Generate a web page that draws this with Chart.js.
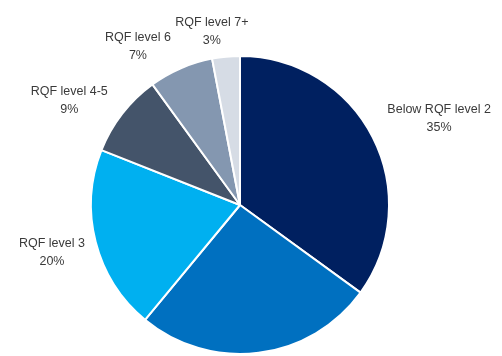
<!DOCTYPE html>
<html lang="en">
<head>
    <meta charset="UTF-8">
    <title>Qualification levels</title>
    <script src="https://cdn.jsdelivr.net/npm/chart.js"></script>
    <style>
        body { margin: 0; background: #ffffff; }
        #chart { display: block; }
    </style>
</head>
<body>
    <canvas id="chart" width="502" height="356"></canvas>

    <script>
        // Share of people by highest qualification level (%)
        const categories = ["Below RQF level 2", "RQF level 2", "RQF level 3", "RQF level 4-5", "RQF level 6", "RQF level 7+"];
        const shares = [35, 26, 20, 9, 7, 3];
        const colours = ["#002060", "#0070C0", "#00B0F0", "#44546A", "#8497B0", "#D6DCE5"];
        // which slices carry a label, and small nudges to the label boxes
        const showLabel = [true, false, true, true, true, true];
        const labelNudge = [[14, -7], [0, 0], [-5, 4], [-17, 2], [-27, 1], [-10, 0]];

        const FONT = '12.5px "Liberation Sans", Arial, sans-serif';

        // Outside-end labels: box sits just beyond the arc along its mid angle
        const outsideLabels = {
            id: 'outsideLabels',
            afterDatasetsDraw(chart) {
                const ctx = chart.ctx;
                const meta = chart.getDatasetMeta(0);
                ctx.save();
                ctx.font = FONT;
                ctx.fillStyle = '#3a3a3a';
                ctx.textAlign = 'center';
                ctx.textBaseline = 'middle';
                meta.data.forEach((arc, i) => {
                    if (!showLabel[i]) return;
                    const mid = (arc.startAngle + arc.endAngle) / 2;
                    const dx = Math.cos(mid), dy = Math.sin(mid);
                    const r = 156;
                    const px = arc.x + dx * r, py = arc.y + dy * r;
                    const line1 = categories[i];
                    const line2 = shares[i] + '%';
                    const w = Math.max(ctx.measureText(line1).width, ctx.measureText(line2).width);
                    const h = 36;
                    const cx = px + dx * w / 2 + labelNudge[i][0];
                    const cy = py + dy * h / 2 + labelNudge[i][1];
                    ctx.fillText(line1, cx, cy - 9);
                    ctx.fillText(line2, cx, cy + 9);
                });
                ctx.restore();
            }
        };

        new Chart(document.getElementById('chart').getContext('2d'), {
            type: 'pie',
            data: {
                labels: categories,
                datasets: [{
                    data: shares,
                    backgroundColor: colours,
                    borderColor: '#ffffff',
                    borderWidth: 2
                }]
            },
            options: {
                responsive: false,
                animation: false,
                layout: { padding: { left: 90, right: 112, top: 55, bottom: 1 } },
                plugins: {
                    legend: { display: false },
                    tooltip: { enabled: false }
                }
            },
            plugins: [outsideLabels]
        });
    </script>
</body>
</html>
